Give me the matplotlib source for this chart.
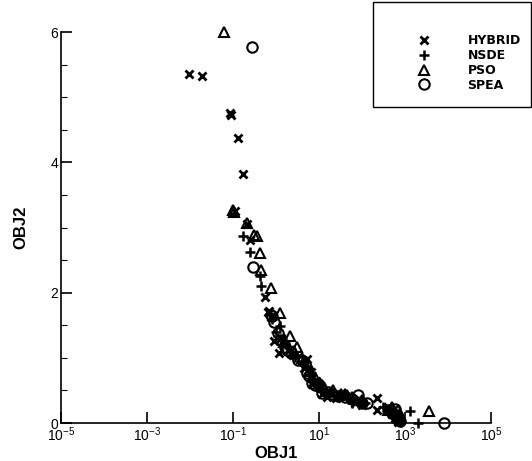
import matplotlib
matplotlib.use("Agg")
import matplotlib.pyplot as plt
from matplotlib.lines import Line2D
from matplotlib.patches import Rectangle
import matplotlib.ticker as mticker

plt.rcParams['font.family'] = ['Liberation Sans', 'DejaVu Sans']
plt.rcParams['mathtext.default'] = 'regular'

# ---- data ----
hybrid_x = [0.0095, 0.019, 0.085, 0.088, 0.13, 0.17, 0.11, 0.21, 0.25, 0.55, 0.66, 0.7, 0.78, 0.9,
            1.2, 1.3, 1.5, 2.0, 2.5, 4.5, 4.8, 5.2, 6.5, 7, 8.5, 10, 12, 15, 20, 25, 30, 40, 55, 70,
            90, 100, 220, 220, 400, 450, 500, 600, 650, 700, 750]
hybrid_y = [5.36, 5.32, 4.76, 4.73, 4.37, 3.82, 3.25, 3.05, 2.81, 1.94, 1.70, 1.72, 1.62, 1.26,
            1.07, 1.30, 1.20, 1.12, 1.05, 0.85, 0.92, 0.98, 0.78, 0.60, 0.65, 0.56, 0.45, 0.40, 0.46,
            0.38, 0.43, 0.42, 0.38, 0.31, 0.33, 0.28, 0.38, 0.20, 0.25, 0.18, 0.14, 0.08, 0.10, 0.02,
            0.04]

nsde_x = [0.17, 0.25, 0.42, 0.46, 0.8, 1.0, 1.24, 1.6, 2, 2.8, 4, 5, 6, 7.5, 9, 10, 15, 18, 30, 45,
          60, 80, 120, 300, 420, 500, 550, 620, 700, 800, 1300, 2000]
nsde_y = [2.87, 2.62, 2.26, 2.10, 1.60, 1.40, 1.49, 1.22, 1.15, 1.02, 0.95, 0.86, 0.75, 0.68, 0.60,
          0.55, 0.45, 0.47, 0.42, 0.40, 0.30, 0.34, 0.30, 0.25, 0.22, 0.12, 0.18, 0.08, 0.05, 0.01,
          0.18, 0.0]

pso_x = [0.062, 0.1, 0.105, 0.21, 0.3, 0.36, 0.42, 0.46, 0.77, 1.24, 1.5, 2.1, 2.6, 3.1, 4, 5.5,
         6, 8, 11.7, 13, 21, 33, 40, 45, 60, 100, 400, 500, 600, 690, 750, 3600]
pso_y = [6.0, 3.27, 3.24, 3.07, 2.88, 2.87, 2.61, 2.35, 2.07, 1.69, 1.25, 1.33, 1.10, 1.17, 1.0,
         0.90, 0.80, 0.70, 0.58, 0.55, 0.51, 0.44, 0.45, 0.43, 0.40, 0.35, 0.20, 0.25, 0.15, 0.20,
         0.10, 0.18]

spea_x = [0.275, 0.29, 0.75, 0.8, 0.9, 1.1, 1.3, 1.6, 1.8, 2.2, 3.2, 4.2, 5.2, 6, 7, 8, 9.5, 12,
          16, 20, 28, 40, 60, 81, 100, 130, 450, 500, 580, 650, 700, 780, 8000]
spea_y = [5.77, 2.4, 1.66, 1.64, 1.55, 1.38, 1.28, 1.17, 1.12, 1.08, 0.97, 0.95, 0.77, 0.72, 0.62,
          0.58, 0.60, 0.46, 0.47, 0.44, 0.42, 0.40, 0.37, 0.43, 0.30, 0.31, 0.20, 0.15, 0.22, 0.12,
          0.05, 0.03, 0.0]

series_names = ['HYBRID', 'NSDE', 'PSO', 'SPEA']
xticks = [1e-5, 1e-3, 1e-1, 1e1, 1e3, 1e5]
xtick_labels = ['$10^{-5}$', '$10^{-3}$', '$10^{-1}$', '$10^{1}$', '$10^{3}$', '$10^{5}$']
yticks = [0, 2, 4, 6]

fig = plt.figure(figsize=(5.32, 4.61), dpi=100)
ax = fig.add_axes([61/532, 38/461, 430/532, 391/461])

styles = [
    dict(marker='x', ms=5.5, mew=2.0),
    dict(marker='+', ms=7, mew=1.8),
    dict(marker='^', ms=7.5, mew=1.5, mfc='none'),
    dict(marker='o', ms=7.5, mew=1.5, mfc='none'),
]
data = [(hybrid_x, hybrid_y), (nsde_x, nsde_y), (pso_x, pso_y), (spea_x, spea_y)]
handles = []
for (xs, ys), st, name in zip(data, styles, series_names):
    ax.plot(xs, ys, ls='none', color='black', mec='black', clip_on=False, **st)
    handles.append(Line2D([], [], ls='none', color='black', mec='black', label=name, **st))

ax.set_xscale('log')
ax.set_xlim(1e-5, 1e5)
ax.set_ylim(0, 6)
ax.xaxis.set_major_locator(mticker.FixedLocator(xticks))
ax.xaxis.set_minor_locator(mticker.NullLocator())
ax.set_xticklabels(xtick_labels)
ax.set_yticks(yticks)
ax.yaxis.set_minor_locator(mticker.MultipleLocator(0.5))

for s in ['top', 'right']:
    ax.spines[s].set_visible(False)
for s in ['left', 'bottom']:
    ax.spines[s].set_linewidth(1.2)
ax.tick_params(which='major', direction='in', length=8, width=1.2, labelsize=10, pad=2)
ax.tick_params(which='minor', direction='in', length=4.5, width=0.8)

ax.set_xlabel('OBJ1', fontsize=12, fontweight='bold', labelpad=1)
ax.set_ylabel('OBJ2', fontsize=12, fontweight='bold', labelpad=16)

# legend frame
fig.add_artist(Rectangle((373/532, (461-107)/461), 158/532, 105/461, transform=fig.transFigure,
                         fill=False, edgecolor='black', linewidth=1.0, clip_on=False))
leg = fig.legend(handles=handles, loc='upper left', bbox_to_anchor=(405/532, (461-28)/461),
                 frameon=False, borderpad=0, handlelength=2.0, handletextpad=2.5,
                 labelspacing=0.15, prop=dict(size=9, weight='bold', family='DejaVu Sans'))

fig.savefig('out.png', dpi=100)
